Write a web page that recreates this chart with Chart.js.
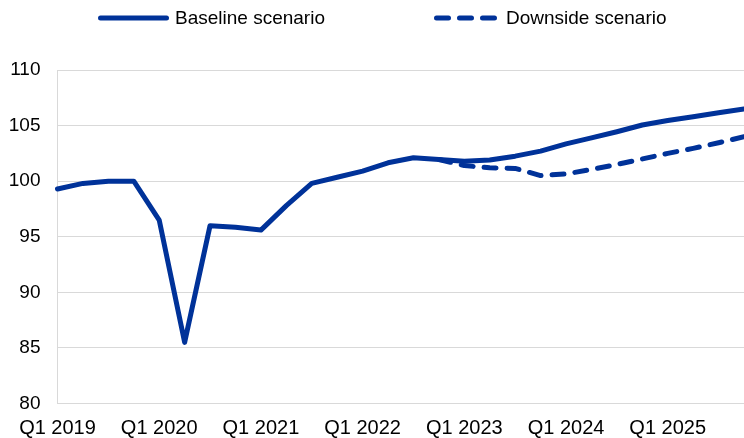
<!DOCTYPE html>
<html>
<head>
<meta charset="utf-8">
<script src="https://cdn.jsdelivr.net/npm/chart.js@4.4.0/dist/chart.umd.min.js"></script>
<style>
  html, body { margin: 0; padding: 0; background: #fff; }
  #wrap { width: 744px; height: 438px; position: relative; }
</style>
</head>
<body>
<div id="wrap"><canvas id="grafico"></canvas></div>
<script>
// trimestres Q1 2019 .. Q4 2025
var quarters = [];
for (let y = 2019; y <= 2025; y++) {
  for (let q = 1; q <= 4; q++) quarters.push('Q' + q + ' ' + y);
}

var baseline = [99.3, 99.8, 100.0, 100.0, 96.5, 85.5, 96.0, 95.85, 95.6, 97.8,
  99.8, 100.35, 100.9, 101.65, 102.1, 101.95, 101.8, 101.9, 102.25, 102.7,
  103.35, 103.9, 104.45, 105.05, 105.45, 105.8, 106.15, 106.5];

var downside = [null, null, null, null, null, null, null, null, null, null,
  null, null, null, null, null, 101.95, 101.4, 101.2, 101.15, 100.5,
  100.65, 101.05, 101.5, 102.0, 102.5, 102.95, 103.45, 104.0];

var seriesNames = ['Baseline scenario', 'Downside scenario'];
var yTicks = [80, 85, 90, 95, 100, 105, 110];

var azul = '#003299';
var fontFam = '"Liberation Sans", Arial, sans-serif';

// leyenda dibujada a mano (linea + texto)
var legendPlugin = {
  id: 'topLegend',
  afterDraw(chart) {
    let ctx = chart.ctx;
    let starts = [98, 434];
    let ends = [169, 500];
    let y = 18;
    ctx.save();
    ctx.font = '19px ' + fontFam;
    ctx.textBaseline = 'middle';
    ctx.textAlign = 'left';
    chart.data.datasets.forEach(function (ds, i) {
      ctx.strokeStyle = ds.borderColor;
      ctx.lineWidth = ds.borderWidth;
      ctx.lineCap = 'round';
      ctx.setLineDash(ds.borderDash || []);
      ctx.beginPath();
      ctx.moveTo(starts[i] + 2.5, y);
      ctx.lineTo(ends[i] - 2.5, y);
      ctx.stroke();
      ctx.setLineDash([]);
      ctx.fillStyle = '#000';
      ctx.fillText(ds.label, ends[i] + 6, y + 1);
    });
    ctx.restore();
  }
};

var lienzo = document.getElementById('grafico').getContext('2d');

var grafico = new Chart(lienzo, {
  type: 'line',
  data: {
    labels: quarters,
    datasets: [{
      label: seriesNames[0],
      data: baseline,
      borderColor: azul,
      backgroundColor: azul,
      borderWidth: 5,
      borderCapStyle: 'round',
      borderJoinStyle: 'round',
      pointRadius: 0,
      tension: 0
    }, {
      label: seriesNames[1],
      data: downside,
      borderColor: azul,
      backgroundColor: azul,
      borderWidth: 5,
      borderDash: [12, 11],
      borderCapStyle: 'round',
      borderJoinStyle: 'round',
      pointRadius: 0,
      tension: 0
    }]
  },
  options: {
    responsive: true,
    maintainAspectRatio: false,
    animation: false,
    layout: { padding: { top: 70, left: 0, right: 0, bottom: 0 } },
    plugins: {
      legend: { display: false },
      tooltip: { enabled: false }
    },
    scales: {
      x: {
        offset: false,
        grid: { display: false, drawTicks: false },
        border: { display: false },
        ticks: {
          autoSkip: false,
          maxRotation: 0,
          padding: 13,
          color: '#000',
          font: { family: fontFam, size: 20 },
          callback: function (v, i) {
            let l = quarters[i];
            return l.indexOf('Q1') === 0 ? l : '';
          }
        },
        afterFit: function (s) {
          s.height = 34.5;
          s.paddingLeft = 0;
          s.paddingRight = 0;
        }
      },
      y: {
        min: yTicks[0],
        max: yTicks[yTicks.length - 1],
        afterBuildTicks: function (s) {
          s.ticks = yTicks.map(function (v) { return { value: v }; });
        },
        grid: { color: '#d9d9d9', lineWidth: 1, drawTicks: false },
        border: { display: true, color: '#d9d9d9' },
        ticks: {
          padding: 17,
          color: '#000',
          font: { family: fontFam, size: 19 }
        },
        afterFit: function (s) { s.width = 57.5; }
      }
    }
  },
  plugins: [legendPlugin]
});
</script>
</body>
</html>
